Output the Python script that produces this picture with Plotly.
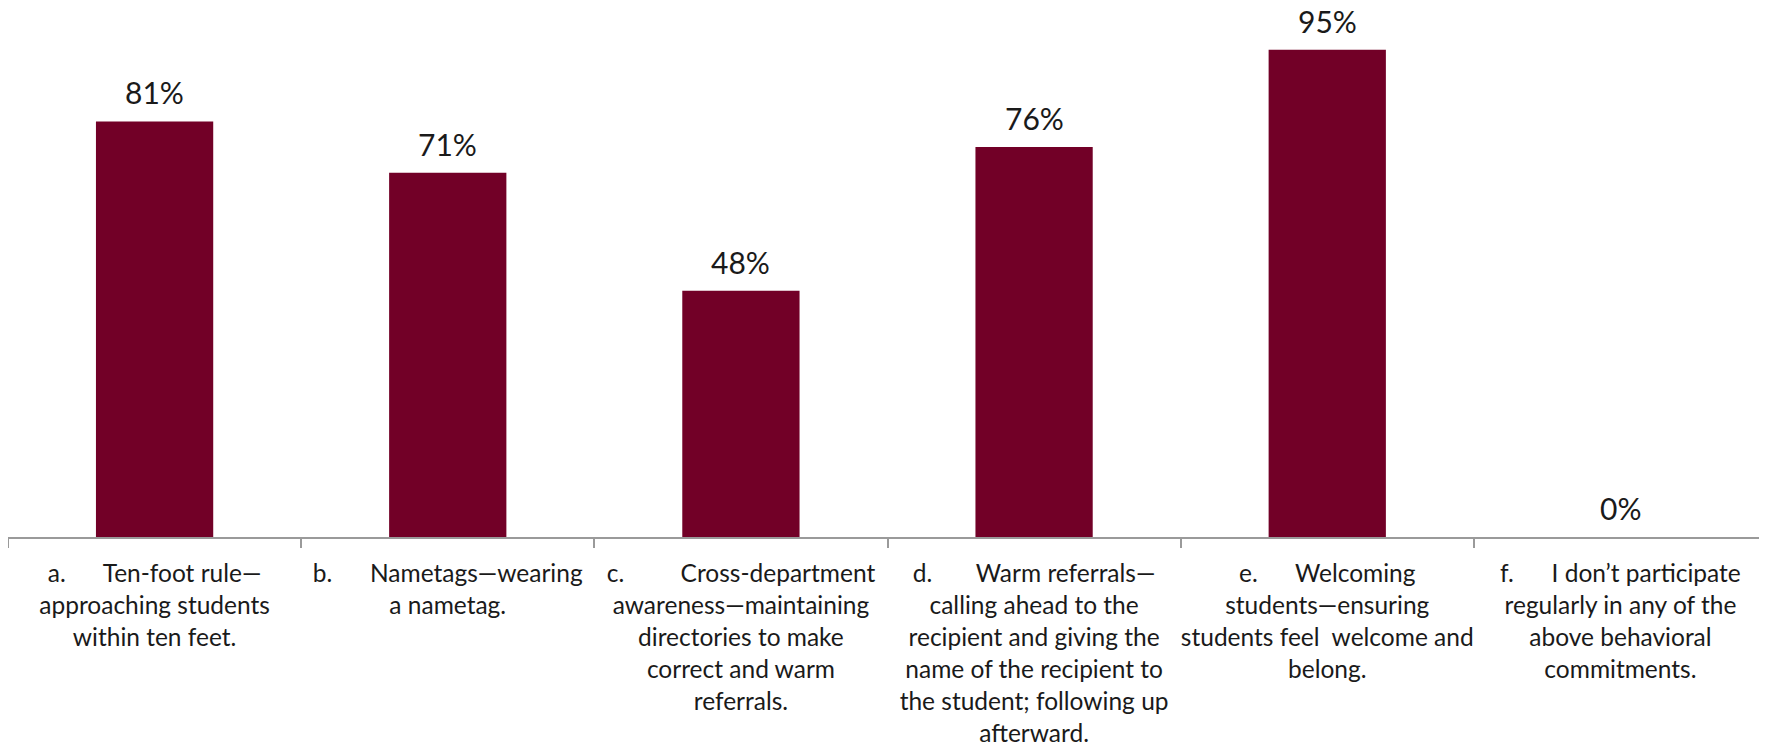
import plotly.graph_objects as go


def nb(n):
    return "&nbsp;" * n


categories = [
    "a." + nb(6) + "Ten-foot rule—<br>approaching students<br>within ten feet.",
    "b." + nb(6) + "Nametags—wearing<br>a nametag.",
    "c." + nb(9) + "Cross-department<br>awareness—maintaining<br>directories to make<br>correct and warm<br>referrals.",
    "d." + nb(7) + "Warm referrals—<br>calling ahead to the<br>recipient and giving the<br>name of the recipient to<br>the student; following up<br>afterward.",
    "e." + nb(6) + "Welcoming<br>students—ensuring<br>students feel  welcome and<br>belong.",
    "f." + nb(6) + "I don’t participate<br>regularly in any of the<br>above behavioral<br>commitments.",
]
values = [81, 71, 48, 76, 95, 0]
value_labels = ["81%", "71%", "48%", "76%", "95%", "0%"]

BAR = "#720027"
FONT = "Lato, Carlito, Calibri, sans-serif"

fig = go.Figure()
fig.add_trace(go.Bar(
    x=categories,
    y=values,
    marker=dict(color=BAR, line=dict(width=0)),
    width=0.4,
    hoverinfo="skip",
))

for c, v, t in zip(categories, values, value_labels):
    fig.add_annotation(
        x=c, y=v, text=t, showarrow=False,
        yanchor="bottom", yshift=10, borderpad=0,
        font=dict(family=FONT, size=30, color="#1a1a1a"),
    )

# page body has an 8px margin; size the figure so it fits the 1767x750 window
fig.update_layout(
    width=1759, height=742,
    margin=dict(l=0, r=0, t=16, b=213, autoexpand=False),
    paper_bgcolor="white", plot_bgcolor="white",
    showlegend=False,
    bargap=0.6,
    font=dict(family=FONT, color="#1a1a1a"),
)
fig.update_xaxes(
    type="category", automargin=False,
    showline=True, linecolor="#9a9a9a", linewidth=2,
    ticks="outside", tickson="boundaries", ticklen=9, tickcolor="#9a9a9a", tickwidth=2,
    tickangle=0,
    tickfont=dict(family=FONT, size=24.5, color="#1a1a1a"),
    showgrid=False, zeroline=False,
    ticklabelstandoff=14,
)
fig.update_yaxes(
    range=[0, 100], visible=False, showgrid=False, zeroline=False, automargin=False,
)

fig.write_html("out.html")
